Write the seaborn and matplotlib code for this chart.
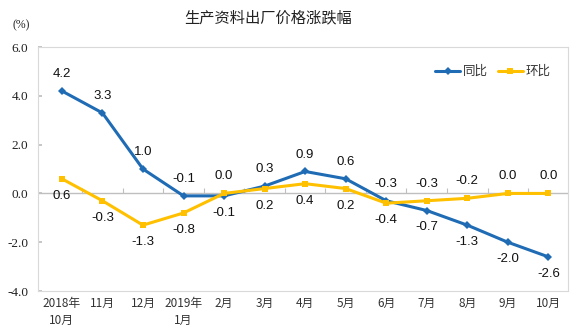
import matplotlib
matplotlib.use("Agg")
import matplotlib.pyplot as plt
import seaborn as sns
import pandas as pd
import numpy as np

months = ["2018年\n10月", "11月", "12月", "2019年\n1月", "2月", "3月", "4月",
          "5月", "6月", "7月", "8月", "9月", "10月"]
yoy = [4.2, 3.3, 1.0, -0.1, -0.1, 0.3, 0.9, 0.6, -0.3, -0.7, -1.3, -2.0, -2.6]
mom = [0.6, -0.3, -1.3, -0.8, 0.0, 0.2, 0.4, 0.2, -0.4, -0.3, -0.2, 0.0, 0.0]
yticks = [6.0, 4.0, 2.0, 0.0, -2.0, -4.0]

sns.set_theme(style="white")
plt.rcParams['font.family'] = ['Noto Sans CJK SC', 'DejaVu Sans']

fig = plt.figure(figsize=(5.72, 3.31), dpi=100)
ax = fig.add_axes([0.0664, 0.1208, 0.927, 0.737])

x = np.arange(len(months))
df = pd.DataFrame({"x": np.concatenate([x, x]),
                   "v": yoy + mom,
                   "s": ["同比"] * len(x) + ["环比"] * len(x)})
blue = "#1F6CB5"
yellow = "#FFC000"
sns.lineplot(data=df, x="x", y="v", hue="s", style="s",
             palette={"同比": blue, "环比": yellow},
             markers={"同比": "D", "环比": "s"}, dashes=False,
             markersize=4, linewidth=2.2, markeredgewidth=0, ax=ax)

# zero line with category boundary ticks
ax.axhline(0, color="#BFBFBF", lw=1, zorder=0)
bx = x[:-1] + 0.5
ax.scatter(bx, np.zeros_like(bx, dtype=float), marker=2, s=12, color="#BFBFBF",
           linewidths=0.8, zorder=0)

# data labels
for i in range(len(x)):
    a, b = yoy[i], mom[i]
    if a >= b:
        ya, va_a = a + 0.45, "bottom"
        yb, va_b = b - 0.45, "top"
    else:
        ya, va_a = a - 0.45, "top"
        yb, va_b = b + 0.45, "bottom"
    ax.text(i, ya, f"{a:.1f}", ha="center", va=va_a, fontsize=9.5,
            family=["Liberation Sans"], color="#111111")
    ax.text(i, yb, f"{b:.1f}", ha="center", va=va_b, fontsize=9.5,
            family=["Liberation Sans"], color="#111111")

ax.set_xlim(-0.59, 12.49)
ax.set_ylim(-4.0, 6.0)
ax.set_yticks(yticks)
ax.set_yticklabels([f"{t:.1f}" for t in yticks], family=["Liberation Serif"],
                   fontsize=9.5, color="#222222")
ax.set_xticks(x)
ax.set_xticklabels(months, fontsize=8.5, color="#333333", linespacing=1.4)
ax.tick_params(axis="x", length=0, pad=4)
ax.tick_params(axis="y", length=3, pad=7, direction="in", color="#BFBFBF", left=True)
ax.set_xlabel("")
ax.set_ylabel("")
for sp in ax.spines.values():
    sp.set_color("#D9D9D9")
    sp.set_linewidth(0.8)

leg = ax.legend(loc="center right", bbox_to_anchor=(0.98, 0.90), frameon=False,
                fontsize=9, handlelength=2.0, ncol=2, columnspacing=0.8,
                handletextpad=0.2, borderpad=0.1)
for t in leg.get_texts():
    t.set_color("#333333")

fig.text(0.469, 0.945, "生产资料出厂价格涨跌幅", ha="center", va="center",
         fontsize=11, color="#222222")
fig.text(0.037, 0.925, "(%)", ha="center", va="center", fontsize=8.5,
         family=["Liberation Serif"], color="#222222")

fig.savefig("out.png", dpi=100)
